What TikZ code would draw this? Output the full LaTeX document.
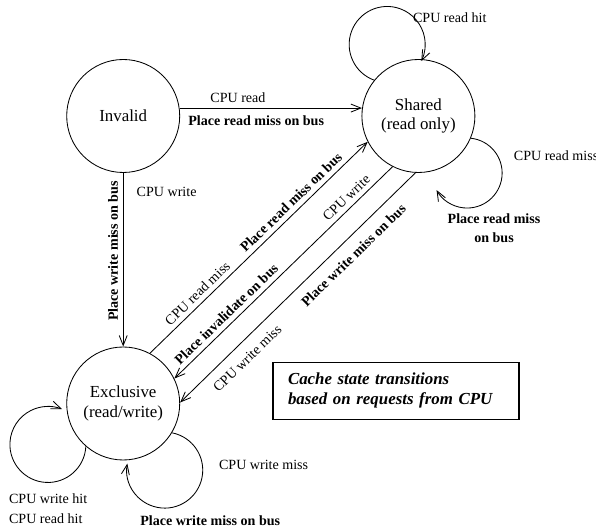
\documentclass[tikz,border=0pt]{standalone}
\usepackage{fontspec}
\setmainfont{Liberation Serif}
\usetikzlibrary{arrows.meta}
\tikzset{
  every picture/.style={line width=0.6pt},
  state/.style={circle, draw, minimum size=2.825cm, inner sep=0pt, align=center, font=\large},
  arr/.style={-{Straight Barb[length=2.5mm, width=2mm]}},
  lbl/.style={font=\normalsize},
  blbl/.style={font=\normalsize\bfseries},
  notebox/.style={draw, line width=0.8pt, align=left, font=\large\bfseries\itshape, text width=5.4cm, inner xsep=0.375cm, minimum height=1.425cm},
}

\begin{document}
\begin{tikzpicture}
  \useasboundingbox (0,0) rectangle (14.9,13.225);
  % the three states
  \node[state] (invalid) at (3.08,10.325) {Invalid};
  \node[state] (shared) at (10.46,10.325) {Shared\\(read only)};
  \node[state] (exclusive) at (3.08,3.1375) {Exclusive\\(read/write)};
  % transitions out of invalid
  \draw[arr] (invalid.8) -- node[lbl, above, pos=0.32] (rdlbl) {CPU read}
    node[blbl, below=2pt, pos=0.42] (rdbuslbl) {Place read miss on bus} (shared.172);
  \draw[arr] (invalid.south) -- node[lbl, right=6pt, pos=0.11] (wrlbl) {CPU write}
    node[blbl, anchor=south, rotate=90, pos=0.45] (wrbuslbl) {Place write miss on bus} (exclusive.north);
  % between shared and exclusive
  \draw[arr] (exclusive.62) -- node[lbl, sloped, above, pos=0.25] (exrdlbl) {CPU read miss}
    node[blbl, sloped, above, pos=0.68] (exrdbuslbl) {Place read miss on bus} (shared.207);
  \draw[arr] (shared.243) -- node[lbl, sloped, above, pos=0.18] (shwrlbl) {CPU write}
    node[blbl, sloped, above, pos=0.73] (shinvlbl) {Place invalidate on bus} (exclusive.26);
  \draw[arr] (shared.267) -- node[blbl, sloped, below=4pt, pos=0.31] (shwrbuslbl) {Place write miss on bus}
    node[lbl, sloped, below=4pt, pos=0.76] (shwrmisslbl) {CPU write miss} (exclusive.1);
  % self loops
  \draw[arr] (shared.141) arc[start angle=250, end angle=-26, radius=0.95];
  \draw[arr] (shared.-23) arc[start angle=84, end angle=-151, radius=0.875];
  \draw[arr] (exclusive.229) arc[start angle=-3, end angle=-292, radius=0.95];
  \draw[arr] (exclusive.-31) arc[start angle=79, end angle=-190, radius=0.95];
  \node[lbl, anchor=west] (rdhitlbl) at (10.2,12.775) {CPU read hit};
  \node[lbl, anchor=west] (rdmisslbl) at (12.72,9.325) {CPU read miss};
  \node[blbl, align=center] (rdmissbuslbl) at (12.35,7.52) {Place read miss\\[1pt]on bus};
  \node[lbl, anchor=west, align=left] (hitlbl) at (0.1,0.5) {CPU write hit\\[2pt]CPU read hit};
  \node[lbl, anchor=west] (wrmisslbl) at (5.35,1.6) {CPU write miss};
  \node[blbl, anchor=west] (wrmissbuslbl) at (3.38,0.2) {Place write miss on bus};
  % legend
  \node[notebox] (note) at (9.9,3.46) {Cache state transitions\\based on requests from CPU};
\end{tikzpicture}
\end{document}
